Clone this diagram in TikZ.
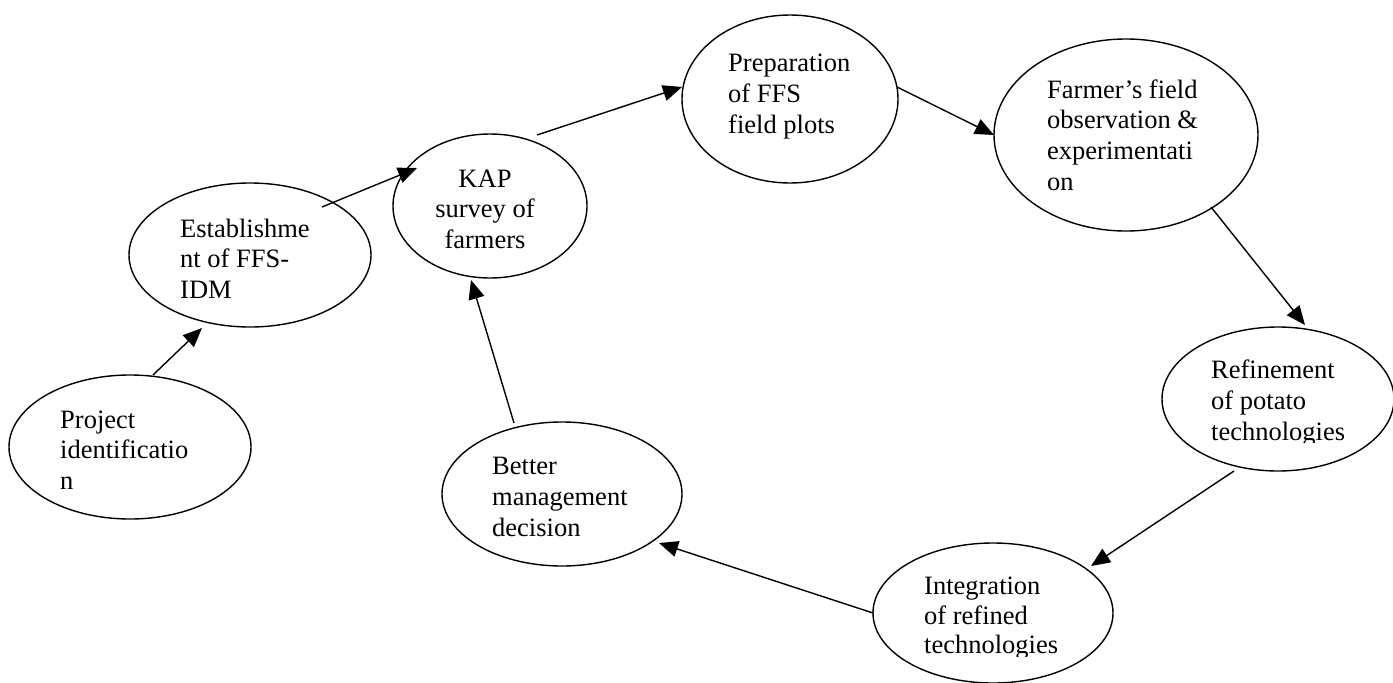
\documentclass[tikz,border=0pt]{standalone}
\usepackage{fontspec}
\setmainfont{Liberation Serif}
\usetikzlibrary{shapes.geometric,arrows.meta,calc}
\begin{document}
\begin{tikzpicture}[x=1pt,y=-1pt,
  oval/.style={draw,ellipse,line width=1.4pt,inner sep=0pt,outer sep=0pt},
  lbl/.style={anchor=base west,inner sep=0pt,font=\fontsize{26.5}{30.5}\selectfont},
  clbl/.style={anchor=base,inner sep=0pt,font=\fontsize{26.5}{30.5}\selectfont},
  conn/.style={line width=1.4pt,-{Triangle[length=19pt,width=16pt]}}]
\useasboundingbox (0,0) rectangle (1393,683);
% ellipses
\node[oval,minimum width=242pt,minimum height=144pt] (proj) at (130,447) {};
\node[oval,minimum width=242pt,minimum height=144pt] (est) at (250,255) {};
\node[oval,minimum width=194pt,minimum height=144pt] (kap) at (490,206) {};
\node[oval,minimum width=216pt,minimum height=168pt] (prep) at (790,99) {};
\node[oval,minimum width=264pt,minimum height=192pt] (farm) at (1126,135) {};
\node[oval,minimum width=232pt,minimum height=144pt] (ref) at (1278,399) {};
\node[oval,minimum width=240pt,minimum height=140pt] (integ) at (993,613) {};
\node[oval,minimum width=240pt,minimum height=144pt] (better) at (562,494) {};
% texts
\node[lbl] (proj1) at (60,428) {Project};
\node[lbl] (proj2) at (60,458) {identificatio};
\node[lbl] (proj3) at (60,489) {n};
\node[lbl] (est1) at (180,237) {Establishme};
\node[lbl] (est2) at (180,267) {nt of FFS-};
\node[lbl] (est3) at (180,298) {IDM};
\node[clbl] (kap1) at (485,187) {KAP};
\node[clbl] (kap2) at (485,217) {survey of};
\node[clbl] (kap3) at (485,248) {farmers};
\node[lbl] (prep1) at (728,71) {Preparation};
\node[lbl] (prep2) at (728,102) {of FFS};
\node[lbl] (prep3) at (728,133) {field plots};
\node[lbl] (farm1) at (1047,98) {Farmer’s field};
\node[lbl] (farm2) at (1047,128) {observation \&};
\node[lbl] (farm3) at (1047,159) {experimentati};
\node[lbl] (farm4) at (1047,190) {on};
\begin{scope}
\clip (1150,330) rectangle (1393,442);
\node[lbl] (ref1) at (1211,378) {Refinement};
\node[lbl] (ref2) at (1211,409) {of potato};
\node[lbl] (ref3) at (1211,440) {technologies};
\end{scope}
\begin{scope}
\clip (880,550) rectangle (1110,656);
\node[lbl] (integ1) at (924,594) {Integration};
\node[lbl] (integ2) at (924,624) {of refined};
\node[lbl] (integ3) at (924,653) {technologies};
\end{scope}
\node[lbl] (bet1) at (492,474) {Better};
\node[lbl] (bet2) at (492,505) {management};
\node[lbl] (bet3) at (492,536) {decision};
% connectors
\draw[conn] ($(proj.center)+(23pt,72pt)$) -- ($(est.center)+(-48pt,-73pt)$);
\draw[conn] ($(est.center)+(72pt,48pt)$) -- ($(kap.center)+(-73pt,38pt)$);
\draw[conn] ($(kap.center)+(47pt,71pt)$) -- ($(prep.center)+(-108pt,12pt)$);
\draw[conn] ($(prep.center)+(107pt,12pt)$) -- (farm.west);
\draw[conn] ($(farm.center)+(85pt,-72pt)$) -- ($(ref.center)+(27pt,74pt)$);
\draw[conn] ($(ref.center)+(-44pt,-72pt)$) -- ($(integ.center)+(98pt,47pt)$);
\draw[conn] (integ.west) -- ($(better.center)+(97pt,-49pt)$);
\draw[conn] ($(better.center)+(-48pt,71pt)$) -- ($(kap.center)+(-19pt,-74pt)$);
\end{tikzpicture}
\end{document}
